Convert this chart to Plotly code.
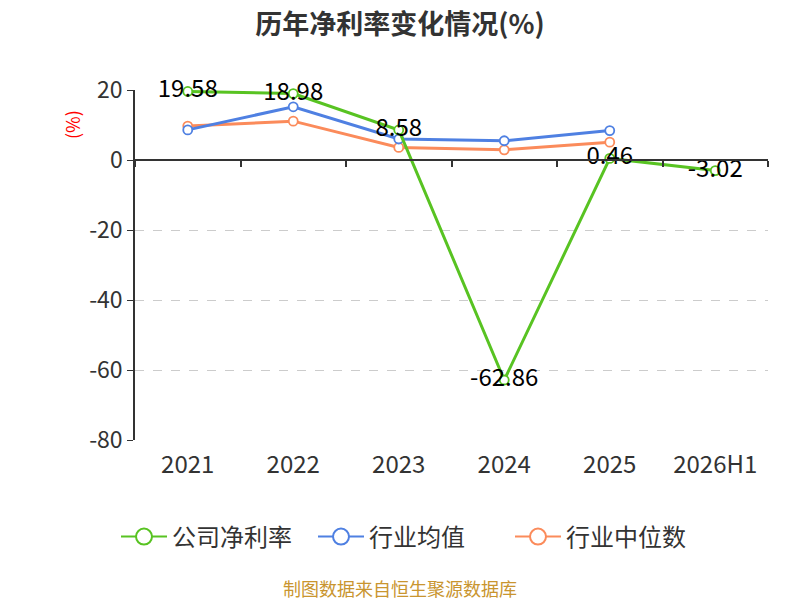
import plotly.graph_objects as go

categories = ["2021", "2022", "2023", "2024", "2025", "2026H1"]
company = [19.58, 18.98, 8.58, -62.86, 0.46, -3.02]
industry_avg = [8.6, 15.2, 6.0, 5.5, 8.4, None]
industry_median = [9.7, 11.1, 3.6, 2.9, 5.1, None]
company_labels = ["19.58", "18.98", "8.58", "-62.86", "0.46", "-3.02"]
y_ticks = [-80, -60, -40, -20, 0, 20]
y_tick_labels = ["-80", "-60", "-40", "-20", "0", "20"]

FONT = "Noto Sans CJK SC"
GREEN = "#58c322"
BLUE = "#4f80e2"
ORANGE = "#fb8b5b"

fig = go.Figure()

def add_series(name, vals, color, text=None):
    fig.add_trace(go.Scatter(
        x=categories, y=vals, name=name, showlegend=False,
        mode="lines+markers+text" if text else "lines+markers",
        text=text, textposition="middle center",
        textfont=dict(size=24, color="#000000", family=FONT),
        line=dict(color=color, width=3),
        marker=dict(symbol="circle", size=9, color="#ffffff",
                    line=dict(color=color, width=1.8)),
        connectgaps=False, cliponaxis=False,
    ))

add_series("行业中位数", industry_median, ORANGE)
add_series("行业均值", industry_avg, BLUE)
add_series("公司净利率", company, GREEN, company_labels)

# legend entries (larger symbols)
for name, color in [("公司净利率", GREEN), ("行业均值", BLUE), ("行业中位数", ORANGE)]:
    fig.add_trace(go.Scatter(
        x=[None], y=[None], name=name, mode="lines+markers",
        line=dict(color=color, width=2),
        marker=dict(symbol="circle", size=16, color="#ffffff",
                    line=dict(color=color, width=2)),
        showlegend=True, hoverinfo="skip"))

# zero-line category axis with boundary ticks
fig.add_trace(go.Scatter(x=categories, y=[0]*6, xaxis="x2", mode="markers",
                         marker=dict(opacity=0), showlegend=False, hoverinfo="skip"))

fig.update_layout(
    width=792, height=592,
    margin=dict(l=127, r=32, t=82, b=160),
    paper_bgcolor="#ffffff", plot_bgcolor="#ffffff",
    font=dict(family=FONT, color="#333333"),
    title=dict(text="<b>历年净利率变化情况(%)</b>", x=(400-8)/792, xanchor="center",
               y=1 - (25-8)/592, yanchor="middle",
               font=dict(size=27, color="#333333", family=FONT)),
    showlegend=True,
    legend=dict(orientation="h", x=(116-135)/633, xanchor="left", y=-(537-440)/350, yanchor="middle",
                font=dict(size=24, color="#333333", family=FONT), itemwidth=46,
                entrywidth=136, entrywidthmode="pixels",
                traceorder="normal"),
    xaxis=dict(type="category", categoryorder="array", categoryarray=categories,
               range=[-0.5, 5.5], showline=False, showgrid=False, zeroline=False,
               ticks="", tickfont=dict(size=24, color="#333333", family=FONT),
               ticklabelstandoff=8),
    xaxis2=dict(type="category", categoryorder="array", categoryarray=categories,
                range=[-0.5, 5.5], overlaying="x", anchor="free", position=0.8,
                showline=True, linecolor="#333333", linewidth=1.5,
                ticks="outside", ticklen=6, tickcolor="#333333", tickwidth=1.5,
                tickson="boundaries", showticklabels=False, showgrid=False, zeroline=False),
    yaxis=dict(range=[-80, 20], tickmode="array", tickvals=y_ticks, ticktext=y_tick_labels,
               showline=True, linecolor="#333333", linewidth=1.5,
               ticks="outside", ticklen=6, tickcolor="#333333",
               showgrid=True, gridcolor="#cccccc", griddash="dash", gridwidth=1.2,
               zeroline=False, tickfont=dict(size=23, color="#333333", family=FONT)),
    annotations=[
        dict(text="(%)", xref="paper", yref="paper", x=(72-135)/633, y=(440-125)/350,
             textangle=-90, showarrow=False, font=dict(size=18, color="#ff0000", family=FONT),
             xanchor="center", yanchor="middle"),
        dict(text="制图数据来自恒生聚源数据库", xref="paper", yref="paper",
             x=(400-135)/633, y=-(588-440)/350, showarrow=False,
             font=dict(size=18, color="#c9952f", family=FONT),
             xanchor="center", yanchor="middle"),
    ],
)

fig.write_html("out.html")
